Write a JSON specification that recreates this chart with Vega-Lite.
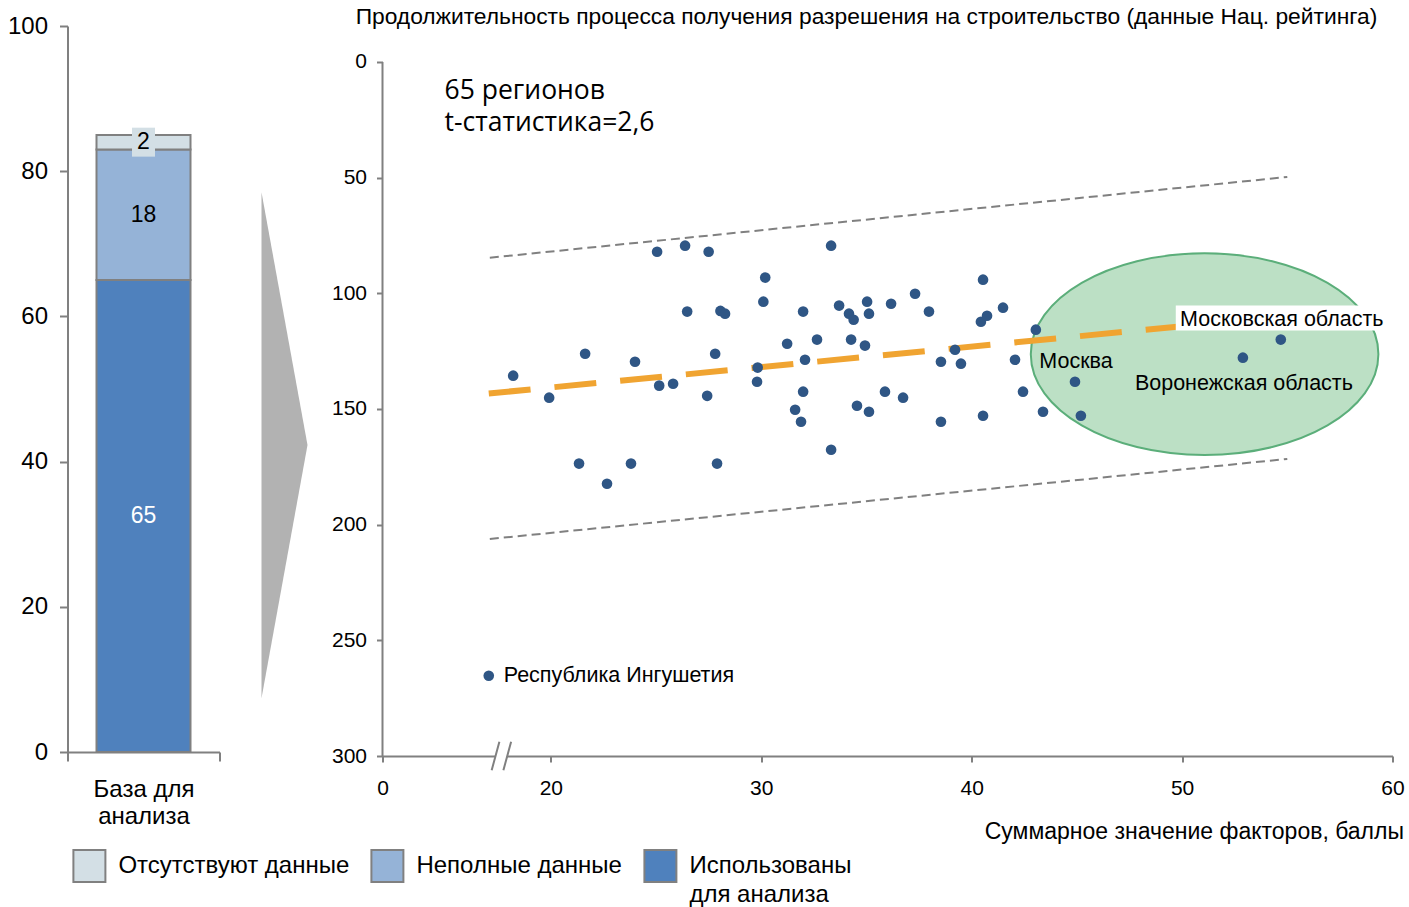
{
  "$schema": "https://vega.github.io/schema/vega-lite/v6.json",
  "padding": {"left": 6.5, "top": 6, "right": 5, "bottom": 5},
  "autosize": {"type": "pad"},
  "background": "white",
  "config": {
    "font": "Liberation Sans",
    "view": {"stroke": null},
    "axis": {
      "domainColor": "#808080", "tickColor": "#808080", "domainWidth": 2, "tickWidth": 2,
      "labelColor": "black", "grid": false, "labelFont": "Liberation Sans",
      "titleFont": "Liberation Sans", "titleColor": "black", "titleFontWeight": "normal"
    },
    "title": {"font": "Liberation Sans", "fontWeight": "normal", "color": "black"}
  },
  "spacing": 20,
  "datasets": {
    "base": [
      {"group": "База для анализа", "status": "Использованы для анализа", "count": 65, "ord": 1},
      {"group": "База для анализа", "status": "Неполные данные", "count": 18, "ord": 2},
      {"group": "База для анализа", "status": "Отсутствуют данные", "count": 2, "ord": 3}
    ],
    "arrow": [
      {"tx": 0, "top": 77.09, "bottom": 7.40},
      {"tx": 1, "top": 42.29, "bottom": 42.29}
    ],
    "regions": [
      {"x": 25.05, "y": 82.0, "name": ""},
      {"x": 26.38, "y": 79.4, "name": ""},
      {"x": 27.50, "y": 82.0, "name": ""},
      {"x": 26.48, "y": 107.9, "name": ""},
      {"x": 28.06, "y": 107.6, "name": ""},
      {"x": 28.28, "y": 108.8, "name": ""},
      {"x": 21.63, "y": 126.1, "name": ""},
      {"x": 18.21, "y": 135.6, "name": ""},
      {"x": 24.00, "y": 129.6, "name": ""},
      {"x": 27.81, "y": 126.1, "name": ""},
      {"x": 25.15, "y": 139.9, "name": ""},
      {"x": 25.81, "y": 139.1, "name": ""},
      {"x": 19.92, "y": 145.1, "name": ""},
      {"x": 27.43, "y": 144.3, "name": ""},
      {"x": 29.83, "y": 132.1, "name": ""},
      {"x": 29.80, "y": 138.2, "name": ""},
      {"x": 21.34, "y": 173.6, "name": ""},
      {"x": 23.81, "y": 173.6, "name": ""},
      {"x": 27.90, "y": 173.6, "name": ""},
      {"x": 22.67, "y": 182.3, "name": ""},
      {"x": 33.32, "y": 79.4, "name": ""},
      {"x": 30.19, "y": 93.2, "name": ""},
      {"x": 30.10, "y": 103.6, "name": ""},
      {"x": 31.99, "y": 107.9, "name": ""},
      {"x": 33.70, "y": 105.3, "name": ""},
      {"x": 34.17, "y": 108.8, "name": ""},
      {"x": 34.39, "y": 111.4, "name": ""},
      {"x": 35.03, "y": 103.6, "name": ""},
      {"x": 35.12, "y": 108.8, "name": ""},
      {"x": 36.17, "y": 104.5, "name": ""},
      {"x": 37.31, "y": 100.2, "name": ""},
      {"x": 37.97, "y": 107.9, "name": ""},
      {"x": 40.54, "y": 94.1, "name": ""},
      {"x": 40.44, "y": 112.3, "name": ""},
      {"x": 40.73, "y": 109.7, "name": ""},
      {"x": 41.49, "y": 106.2, "name": ""},
      {"x": 31.23, "y": 121.8, "name": ""},
      {"x": 32.65, "y": 120.0, "name": ""},
      {"x": 34.27, "y": 120.0, "name": ""},
      {"x": 34.93, "y": 122.6, "name": ""},
      {"x": 32.08, "y": 128.7, "name": ""},
      {"x": 39.21, "y": 124.4, "name": ""},
      {"x": 38.54, "y": 129.6, "name": ""},
      {"x": 39.49, "y": 130.4, "name": ""},
      {"x": 42.06, "y": 128.7, "name": ""},
      {"x": 31.99, "y": 142.5, "name": ""},
      {"x": 31.61, "y": 150.3, "name": ""},
      {"x": 31.89, "y": 155.5, "name": ""},
      {"x": 34.55, "y": 148.6, "name": ""},
      {"x": 35.12, "y": 151.2, "name": ""},
      {"x": 35.88, "y": 142.5, "name": ""},
      {"x": 36.74, "y": 145.1, "name": ""},
      {"x": 38.54, "y": 155.5, "name": ""},
      {"x": 40.54, "y": 152.9, "name": ""},
      {"x": 42.44, "y": 142.5, "name": ""},
      {"x": 33.32, "y": 167.6, "name": ""},
      {"x": 43.05, "y": 115.7, "name": ""},
      {"x": 54.69, "y": 120.0, "name": "Московская область"},
      {"x": 52.89, "y": 127.8, "name": "Воронежская область"},
      {"x": 44.91, "y": 138.2, "name": "Москва"},
      {"x": 43.39, "y": 151.2, "name": ""},
      {"x": 45.19, "y": 152.9, "name": ""},
      {"x": 17.05, "y": 265.3, "name": "Республика Ингушетия"}
    ],
    "ellipse": [{"x": 51.07, "y": 126.3}],
    "bands": [
      {"band": "upper", "x": 17.1, "y": 84.6},
      {"band": "upper", "x": 55.0, "y": 49.7},
      {"band": "lower", "x": 17.1, "y": 206.2},
      {"band": "lower", "x": 55.0, "y": 171.6}
    ],
    "trend": [
      {"x": 17.05, "y": 143.3},
      {"x": 55.0, "y": 109.8}
    ],
    "notes": [
      {"x": 14.95, "y": 16.0, "text": "65 регионов"},
      {"x": 14.95, "y": 29.9, "text": "t-статистика=2,6"}
    ],
    "axisbreak": [{"x": 17.65, "y": 300}]
  },
  "hconcat": [
    {
      "width": 152,
      "height": 726,
      "data": {"name": "base"},
      "layer": [
        {
          "mark": {"type": "bar", "width": 94, "stroke": "#808080", "strokeWidth": 2},
          "encoding": {
            "x": {
              "field": "group", "type": "nominal",
              "scale": {"paddingInner": 0, "paddingOuter": 0},
              "axis": {
                "title": ["База для", "анализа"], "titleFontSize": 24, "titleLineHeight": 27,
                "titlePadding": 15, "labels": false,
                "tickBand": "extent", "tickSize": 9
              }
            },
            "y": {
              "field": "count", "type": "quantitative", "stack": "zero",
              "scale": {"domain": [0, 100], "nice": false},
              "axis": {"title": null, "values": [0, 20, 40, 60, 80, 100], "tickSize": 8, "labelPadding": 12, "labelFontSize": 24}
            },
            "color": {
              "field": "status", "type": "nominal",
              "scale": {
                "domain": ["Отсутствуют данные", "Неполные данные", "Использованы для анализа"],
                "range": ["#D3DFE5", "#95B3D7", "#4F81BD"]
              },
              "legend": {
                "orient": "none", "legendX": 4.9, "legendY": 823,
                "direction": "horizontal", "columns": 3, "columnPadding": 18,
                "title": null, "symbolType": "square", "symbolSize": 1024,
                "symbolStrokeColor": "#808080", "symbolStrokeWidth": 2,
                "labelFontSize": 24, "labelFont": "Liberation Sans", "labelColor": "black",
                "labelOffset": 12, "labelLimit": 400,
                "labelExpr": "datum.label == 'Использованы для анализа' ? ['Использованы', 'для анализа'] : [datum.label, ' ']",
                "encode": {
                  "labels": {
                    "update": {
                      "lineHeight": {"value": 29}
                    }
                  }
                }
              }
            },
            "order": {"field": "ord", "type": "quantitative"}
          }
        },
        {
          "mark": {"type": "point", "shape": "M-1,-1.26L1,-1.26L1,1.26L-1,1.26Z", "size": 529, "filled": true, "fill": "#D3DFE5", "strokeWidth": 0},
          "encoding": {
            "x": {"field": "group", "type": "nominal"},
            "y": {"field": "count", "type": "quantitative", "stack": "zero", "bandPosition": 0.5},
            "detail": {"field": "status"},
            "order": {"field": "ord", "type": "quantitative"},
            "opacity": {"condition": {"test": "datum.status == 'Отсутствуют данные'", "value": 1}, "value": 0}
          }
        },
        {
          "mark": {"type": "text", "fontSize": 23, "font": "Liberation Sans", "baseline": "middle"},
          "encoding": {
            "x": {"field": "group", "type": "nominal"},
            "y": {"field": "count", "type": "quantitative", "stack": "zero", "bandPosition": 0.5},
            "detail": {"field": "status"},
            "order": {"field": "ord", "type": "quantitative"},
            "text": {"field": "count", "type": "quantitative"},
            "color": {"condition": {"test": "datum.status == 'Использованы для анализа'", "value": "white"}, "value": "black"}
          }
        }
      ]
    },
    {
      "width": 69.4,
      "height": 726,
      "data": {"name": "arrow"},
      "mark": {"type": "area", "color": "#B2B2B2", "orient": "vertical", "opacity": 1},
      "encoding": {
        "x": {"field": "tx", "type": "quantitative", "scale": {"domain": [-0.4565, 1.052], "nice": false, "zero": false}, "axis": null},
        "y": {"field": "top", "type": "quantitative", "scale": {"domain": [0, 100], "nice": false}, "axis": null},
        "y2": {"field": "bottom"}
      }
    },
    {
      "width": 1010,
      "height": 730,
      "title": {
        "text": "Продолжительность процесса получения разрешения на строительство (данные Нац. рейтинга)",
        "fontSize": 22.8, "anchor": "middle", "dx": -21, "offset": -3
      },
      "layer": [
        {
          "data": {"name": "ellipse"},
          "mark": {
            "type": "point",
            "shape": "M1,0C1,0.3203 0.5523,0.58 0,0.58C-0.5523,0.58 -1,0.3203 -1,0C-1,-0.3203 -0.5523,-0.58 0,-0.58C0.5523,-0.58 1,-0.3203 1,0Z",
            "size": 120826, "filled": true, "fill": "#BCE0C5", "stroke": "#5BAE7A", "strokeWidth": 2, "opacity": 1
          },
          "encoding": {
            "x": {
              "field": "x", "type": "quantitative",
              "scale": {"domain": [12, 60], "nice": false, "zero": false},
              "axis": {
                "values": [12, 20, 30, 40, 50, 60],
                "labelExpr": "datum.value == 12 ? '0' : datum.label",
                "labelFontSize": 21, "tickSize": 6, "labelPadding": 15, "labelFlush": false,
                "title": "Суммарное значение факторов, баллы",
                "titleFontSize": 23, "titleX": 1021, "titleY": 75,
                "titleAlign": "right", "titleBaseline": "middle", "titleAnchor": "end"
              }
            },
            "y": {
              "field": "y", "type": "quantitative",
              "scale": {"domain": [-15.56, 300], "reverse": true, "nice": false, "zero": false},
              "axis": {"values": [0, 50, 100, 150, 200, 250, 300], "title": null, "labelFontSize": 21, "tickSize": 6, "labelPadding": 10, "domain": false, "labelFlush": false}
            }
          }
        },
        {
          "data": {"name": "ellipse"},
          "mark": {"type": "rule", "color": "#808080", "strokeWidth": 2},
          "encoding": {
            "x": {"datum": 12, "type": "quantitative"},
            "y": {"datum": 0, "type": "quantitative"},
            "y2": {"datum": 300}
          }
        },
        {
          "data": {"name": "bands"},
          "mark": {"type": "line", "color": "#808080", "strokeWidth": 2, "strokeDash": [9, 5]},
          "encoding": {
            "x": {"field": "x", "type": "quantitative"},
            "y": {"field": "y", "type": "quantitative"},
            "detail": {"field": "band"}
          }
        },
        {
          "data": {"name": "trend"},
          "mark": {"type": "line", "color": "#F0A431", "strokeWidth": 6, "strokeDash": [42, 24]},
          "encoding": {
            "x": {"field": "x", "type": "quantitative"},
            "y": {"field": "y", "type": "quantitative"}
          }
        },
        {
          "data": {"name": "regions"},
          "transform": [{"filter": "datum.name == 'Московская область'"}],
          "mark": {"type": "point", "shape": "M-1,-0.324L1,-0.324L1,-0.086L-1,-0.086Z", "size": 44100, "filled": true, "fill": "white", "strokeWidth": 0, "opacity": 1},
          "encoding": {
            "x": {"field": "x", "type": "quantitative"},
            "y": {"field": "y", "type": "quantitative"}
          }
        },
        {
          "data": {"name": "regions"},
          "mark": {"type": "circle", "size": 113, "color": "#2F5685", "opacity": 1},
          "encoding": {
            "x": {"field": "x", "type": "quantitative"},
            "y": {"field": "y", "type": "quantitative"}
          }
        },
        {
          "data": {"name": "regions"},
          "transform": [{"filter": "datum.name == 'Москва' || datum.name == 'Московская область'"}],
          "mark": {"type": "text", "fontSize": 21.5, "align": "center", "baseline": "middle", "dx": 1, "dy": -20, "color": "black"},
          "encoding": {
            "x": {"field": "x", "type": "quantitative"},
            "y": {"field": "y", "type": "quantitative"},
            "text": {"field": "name"}
          }
        },
        {
          "data": {"name": "regions"},
          "transform": [{"filter": "datum.name == 'Воронежская область'"}],
          "mark": {"type": "text", "fontSize": 21.5, "align": "center", "baseline": "middle", "dx": 1, "dy": 26, "color": "black"},
          "encoding": {
            "x": {"field": "x", "type": "quantitative"},
            "y": {"field": "y", "type": "quantitative"},
            "text": {"field": "name"}
          }
        },
        {
          "data": {"name": "regions"},
          "transform": [{"filter": "datum.name == 'Республика Ингушетия'"}],
          "mark": {"type": "text", "fontSize": 21.5, "align": "left", "baseline": "middle", "dx": 15, "dy": 0, "color": "black"},
          "encoding": {
            "x": {"field": "x", "type": "quantitative"},
            "y": {"field": "y", "type": "quantitative"},
            "text": {"field": "name"}
          }
        },
        {
          "data": {"name": "axisbreak"},
          "mark": {"type": "point", "shape": "M-0.68,1L-0.14,-1L0.68,-1L0.14,1Z", "size": 818, "filled": true, "fill": "white", "strokeWidth": 0, "opacity": 1},
          "encoding": {
            "x": {"field": "x", "type": "quantitative"},
            "y": {"field": "y", "type": "quantitative"}
          }
        },
        {
          "data": {"name": "axisbreak"},
          "mark": {"type": "point", "shape": "M-0.68,1L-0.14,-1M0.14,1L0.68,-1", "size": 818, "filled": false, "stroke": "#808080", "strokeWidth": 2, "opacity": 1},
          "encoding": {
            "x": {"field": "x", "type": "quantitative"},
            "y": {"field": "y", "type": "quantitative"}
          }
        },
        {
          "data": {"name": "notes"},
          "mark": {"type": "text", "font": "Open Sans", "fontSize": 26.5, "align": "left", "baseline": "alphabetic", "color": "black"},
          "encoding": {
            "x": {"field": "x", "type": "quantitative"},
            "y": {"field": "y", "type": "quantitative"},
            "text": {"field": "text"}
          }
        }
      ]
    }
  ]
}
